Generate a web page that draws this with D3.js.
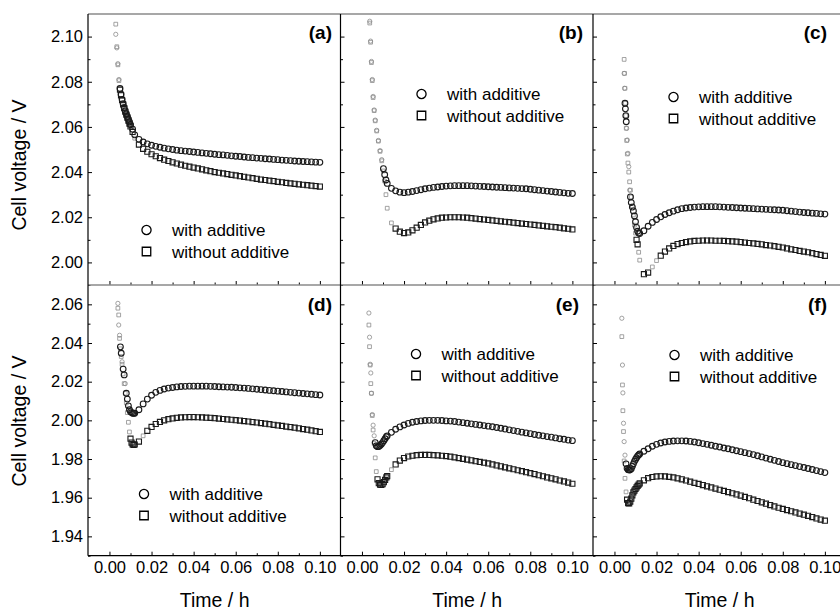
<!DOCTYPE html>
<html>
  <head>
    <meta charset="utf-8">
    <title>Cell voltage over time</title>
    <script src="https://d3js.org/d3.v7.min.js"></script>
    <style>
      body { margin: 0; background: #fff; }
      svg { font-family: "Liberation Sans", Arial, Helvetica, sans-serif; }
      .tick line { stroke: #000; }
      .tick text { font-size: 16.5px; fill: #000; }
    </style>
  </head>
  <body>
    <svg id="chart" width="840" height="610"></svg>
    <script>
      // tick values
      xTicks = [0.00, 0.02, 0.04, 0.06, 0.08, 0.10];
      xMinor = [0.01, 0.03, 0.05, 0.07, 0.09];
      yTicksTop = [2.00, 2.02, 2.04, 2.06, 2.08, 2.10];
      yMinorTop = [1.99, 2.01, 2.03, 2.05, 2.07, 2.09];
      yTicksBottom = [1.94, 1.96, 1.98, 2.00, 2.02, 2.04, 2.06];
      yMinorBottom = [1.93, 1.95, 1.97, 1.99, 2.01, 2.03, 2.05];
      seriesNames = ["with additive", "without additive"];

      // regular part of the time axis (h)
      tGrid = [0.012, 0.014, 0.016, 0.018, 0.020, 0.022, 0.024, 0.026, 0.028, 0.030,
               0.032, 0.034, 0.036, 0.038, 0.040, 0.042, 0.044, 0.046, 0.048, 0.050,
               0.052, 0.054, 0.056, 0.058, 0.060, 0.062, 0.064, 0.066, 0.068, 0.070,
               0.072, 0.074, 0.076, 0.078, 0.080, 0.082, 0.084, 0.086, 0.088, 0.090,
               0.092, 0.094, 0.096, 0.098, 0.100];

      // (a)
      timeA = [0.003, 0.0035, 0.004, 0.0045, 0.005, 0.0055, 0.006, 0.0065, 0.007, 0.0075,
               0.008, 0.0085, 0.009, 0.0095, 0.010, 0.011].concat(tGrid);
      withA = [2.1010, 2.0950, 2.0880, 2.0810, 2.0770, 2.0745, 2.0722, 2.0703, 2.0686, 2.0671,
               2.0658, 2.0646, 2.0634, 2.0622, 2.0610, 2.0590,
               2.0565, 2.0545, 2.0533, 2.0525, 2.0519, 2.0514, 2.0510, 2.0506, 2.0503, 2.0500,
               2.0497, 2.0495, 2.0493, 2.0491, 2.0489, 2.0487, 2.0485, 2.0483, 2.0481, 2.0479,
               2.0477, 2.0476, 2.0474, 2.0472, 2.0470, 2.0469, 2.0467, 2.0465, 2.0464, 2.0462,
               2.0461, 2.0459, 2.0458, 2.0456, 2.0455, 2.0453, 2.0452, 2.0451, 2.0449, 2.0448,
               2.0447, 2.0446, 2.0445, 2.0444, 2.0443];
      withoutA = [2.1055, 2.0955, 2.0875, 2.0805, 2.0765, 2.0740, 2.0718, 2.0700, 2.0683, 2.0668,
                  2.0654, 2.0641, 2.0628, 2.0615, 2.0602, 2.0578,
                  2.0550, 2.0522, 2.0503, 2.0490, 2.0479, 2.0470, 2.0462, 2.0455, 2.0449, 2.0443,
                  2.0438, 2.0433, 2.0428, 2.0424, 2.0420, 2.0416, 2.0412, 2.0408, 2.0404, 2.0400,
                  2.0397, 2.0394, 2.0391, 2.0388, 2.0385, 2.0382, 2.0379, 2.0376, 2.0373, 2.0370,
                  2.0367, 2.0365, 2.0362, 2.0360, 2.0357, 2.0355, 2.0352, 2.0350, 2.0348, 2.0346,
                  2.0344, 2.0342, 2.0340, 2.0338, 2.0336];

      // (b)
      timeB = [0.0037, 0.0041, 0.0045, 0.0049, 0.0053, 0.0058, 0.0063, 0.0070, 0.0078, 0.0086,
               0.0094, 0.0102, 0.0108, 0.0114].concat(tGrid);
      withB = [2.1068, 2.0980, 2.0890, 2.0810, 2.0735, 2.0675, 2.0630, 2.0585, 2.0540, 2.0495,
               2.0455, 2.0415, 2.0388, 2.0365,
               2.0350, 2.0328, 2.0317, 2.0311, 2.0309, 2.0311, 2.0314, 2.0318, 2.0322, 2.0326,
               2.0329, 2.0332, 2.0334, 2.0336, 2.0338, 2.0339, 2.0340, 2.0340, 2.0340, 2.0340,
               2.0339, 2.0338, 2.0337, 2.0336, 2.0335, 2.0334, 2.0333, 2.0332, 2.0331, 2.0330,
               2.0329, 2.0328, 2.0327, 2.0326, 2.0324, 2.0322, 2.0320, 2.0318, 2.0316, 2.0314,
               2.0312, 2.0310, 2.0308, 2.0306, 2.0305];
      withoutB = [2.1060, 2.0975, 2.0885, 2.0805, 2.0730, 2.0672, 2.0627, 2.0582, 2.0537, 2.0492,
                  2.0450, 2.0405, 2.0360, 2.0300,
                  2.0240, 2.0175, 2.0150, 2.0136, 2.0130, 2.0133, 2.0142, 2.0154, 2.0166, 2.0177,
                  2.0185, 2.0191, 2.0195, 2.0198, 2.0199, 2.0200, 2.0200, 2.0200, 2.0199, 2.0198,
                  2.0196, 2.0194, 2.0192, 2.0190, 2.0188, 2.0186, 2.0184, 2.0182, 2.0180, 2.0178,
                  2.0176, 2.0174, 2.0172, 2.0170, 2.0168, 2.0166, 2.0164, 2.0162, 2.0160, 2.0158,
                  2.0156, 2.0154, 2.0151, 2.0149, 2.0146];

      // (c)
      timeC = [0.0046, 0.0048, 0.0050, 0.0052, 0.0054, 0.0056, 0.0058, 0.0061, 0.0064, 0.0068,
               0.0072, 0.0076, 0.0080, 0.0085, 0.0090, 0.0095, 0.0100, 0.0105, 0.0110, 0.0115].concat(tGrid);
      withC = [2.0837, 2.0771, 2.0705, 2.0680, 2.0650, 2.0623, 2.0594, 2.0542, 2.0483, 2.0424,
               2.0320, 2.0290, 2.0265, 2.0245, 2.0228, 2.0206, 2.0180, 2.0155, 2.0138, 2.0130,
               2.0128, 2.0140, 2.0160, 2.0177, 2.0190, 2.0202, 2.0212, 2.0220, 2.0227, 2.0233,
               2.0238, 2.0241, 2.0243, 2.0245, 2.0246, 2.0247, 2.0247, 2.0247, 2.0247, 2.0246,
               2.0245, 2.0244, 2.0243, 2.0242, 2.0241, 2.0240, 2.0239, 2.0238, 2.0237, 2.0236,
               2.0235, 2.0234, 2.0233, 2.0232, 2.0231, 2.0229, 2.0227, 2.0225, 2.0223, 2.0221,
               2.0220, 2.0218, 2.0217, 2.0215, 2.0214];
      withoutC = [2.0899, 2.0837, 2.0771, 2.0705, 2.0650, 2.0594, 2.0540, 2.0480, 2.0440, 2.0400,
                  2.0357, 2.0320, 2.0290, 2.0250, 2.0210, 2.0165, 2.0130, 2.0100, 2.0080, 2.0045,
                  2.0010, 1.9948, 1.9955, 1.9980, 2.0008, 2.0030, 2.0048, 2.0062, 2.0073, 2.0081,
                  2.0086, 2.0090, 2.0093, 2.0095, 2.0096, 2.0097, 2.0097, 2.0097, 2.0096, 2.0096,
                  2.0095, 2.0094, 2.0093, 2.0092, 2.0090, 2.0088, 2.0086, 2.0084, 2.0082, 2.0080,
                  2.0077, 2.0075, 2.0072, 2.0069, 2.0066, 2.0062, 2.0058, 2.0055, 2.0051, 2.0048,
                  2.0045, 2.0041, 2.0037, 2.0033, 2.0029];

      // (d)
      timeD = [0.0040, 0.0044, 0.0048, 0.0052, 0.0056, 0.0060, 0.0065, 0.0070, 0.0075, 0.0080,
               0.0085, 0.0090, 0.0095, 0.0100, 0.0105, 0.0110, 0.0115].concat(tGrid);
      withD = [2.0605, 2.0493, 2.0440, 2.0380, 2.0347, 2.0303, 2.0265, 2.0235, 2.0190, 2.0140,
               2.0110, 2.0075, 2.0055, 2.0045, 2.0040, 2.0037, 2.0036,
               2.0037, 2.0055, 2.0085, 2.0110, 2.0130, 2.0145, 2.0155, 2.0162, 2.0167, 2.0170,
               2.0173, 2.0175, 2.0176, 2.0177, 2.0177, 2.0177, 2.0177, 2.0177, 2.0176, 2.0175,
               2.0174, 2.0173, 2.0172, 2.0171, 2.0170, 2.0168, 2.0167, 2.0165, 2.0163, 2.0161,
               2.0159, 2.0157, 2.0155, 2.0153, 2.0151, 2.0149, 2.0147, 2.0145, 2.0143, 2.0141,
               2.0139, 2.0137, 2.0135, 2.0133, 2.0131];
      withoutD = [2.0580, 2.0545, 2.0424, 2.0370, 2.0330, 2.0290, 2.0240, 2.0190, 2.0140, 2.0090,
                  2.0040, 1.9990, 1.9940, 1.9905, 1.9885, 1.9876, 1.9873,
                  1.9875, 1.9890, 1.9920, 1.9946, 1.9966, 1.9981, 1.9992, 2.0000, 2.0006, 2.0010,
                  2.0013, 2.0015, 2.0016, 2.0017, 2.0017, 2.0016, 2.0015, 2.0014, 2.0013, 2.0011,
                  2.0009, 2.0007, 2.0005, 2.0003, 2.0001, 1.9999, 1.9996, 1.9994, 1.9991, 1.9989,
                  1.9986, 1.9983, 1.9980, 1.9977, 1.9974, 1.9971, 1.9968, 1.9965, 1.9962, 1.9959,
                  1.9955, 1.9952, 1.9948, 1.9944, 1.9940];

      // (e)
      timeE = [0.0033, 0.0036, 0.0039, 0.0042, 0.0045, 0.0049, 0.0053, 0.0058, 0.0063, 0.0068,
               0.0074, 0.0080, 0.0086, 0.0092, 0.0098, 0.0104, 0.0110, 0.0116].concat(tGrid);
      withE = [2.0555, 2.0430, 2.0290, 2.0245, 2.0140, 2.0030, 1.9975, 1.9920, 1.9885, 1.9868,
               1.9864, 1.9865, 1.9870, 1.9877, 1.9885, 1.9895, 1.9905, 1.9915,
               1.9920, 1.9938, 1.9954, 1.9966, 1.9976, 1.9984, 1.9990, 1.9994, 1.9997, 1.9999,
               2.0000, 2.0000, 2.0000, 1.9999, 1.9997, 1.9996, 1.9994, 1.9991, 1.9988, 1.9985,
               1.9982, 1.9979, 1.9976, 1.9973, 1.9970, 1.9967, 1.9963, 1.9959, 1.9955, 1.9951,
               1.9947, 1.9943, 1.9939, 1.9935, 1.9931, 1.9927, 1.9923, 1.9920, 1.9916, 1.9913,
               1.9909, 1.9905, 1.9902, 1.9898, 1.9895];
      withoutE = [2.0493, 2.0381, 2.0286, 2.0190, 2.0140, 2.0025, 1.9950, 1.9880, 1.9806, 1.9735,
                  1.9695, 1.9675, 1.9667, 1.9666, 1.9670, 1.9680, 1.9692, 1.9705,
                  1.9712, 1.9745, 1.9772, 1.9792, 1.9805, 1.9813, 1.9817, 1.9820, 1.9821, 1.9821,
                  1.9821, 1.9820, 1.9819, 1.9817, 1.9815, 1.9812, 1.9809, 1.9805, 1.9801, 1.9797,
                  1.9793, 1.9789, 1.9785, 1.9781, 1.9777, 1.9772, 1.9767, 1.9762, 1.9757, 1.9752,
                  1.9747, 1.9742, 1.9737, 1.9732, 1.9727, 1.9722, 1.9716, 1.9711, 1.9705, 1.9700,
                  1.9695, 1.9689, 1.9684, 1.9678, 1.9672];

      // (f)
      timeF = [0.0035, 0.0038, 0.0040, 0.0043, 0.0046, 0.0050, 0.0055, 0.0060, 0.0065, 0.0070,
               0.0075, 0.0080, 0.0085, 0.0090, 0.0095, 0.0100, 0.0105, 0.0110, 0.0115].concat(tGrid);
      withF = [2.0528, 2.0286, 2.0142, 1.9985, 1.9890, 1.9820, 1.9775, 1.9752, 1.9745, 1.9743,
               1.9744, 1.9750, 1.9762, 1.9775, 1.9788, 1.9798, 1.9807, 1.9815, 1.9821,
               1.9826, 1.9840, 1.9853, 1.9866, 1.9876, 1.9883, 1.9888, 1.9891, 1.9893, 1.9894,
               1.9894, 1.9893, 1.9891, 1.9888, 1.9884, 1.9880, 1.9876, 1.9871, 1.9866, 1.9862,
               1.9857, 1.9853, 1.9848, 1.9843, 1.9838, 1.9833, 1.9828, 1.9823, 1.9817, 1.9811,
               1.9805, 1.9799, 1.9793, 1.9787, 1.9781, 1.9776, 1.9771, 1.9766, 1.9761, 1.9756,
               1.9751, 1.9746, 1.9740, 1.9735, 1.9730];
      withoutF = [2.0433, 2.0183, 2.0050, 1.9942, 1.9790, 1.9700, 1.9630, 1.9590, 1.9572, 1.9571,
                  1.9580, 1.9595, 1.9612, 1.9628, 1.9637, 1.9645, 1.9653, 1.9661, 1.9668,
                  1.9674, 1.9690, 1.9701, 1.9707, 1.9710, 1.9711, 1.9710, 1.9708, 1.9705, 1.9700,
                  1.9695, 1.9689, 1.9683, 1.9677, 1.9671, 1.9665, 1.9659, 1.9653, 1.9647, 1.9641,
                  1.9635, 1.9629, 1.9623, 1.9617, 1.9611, 1.9604, 1.9597, 1.9590, 1.9583, 1.9576,
                  1.9569, 1.9562, 1.9555, 1.9548, 1.9542, 1.9536, 1.9530, 1.9524, 1.9518, 1.9512,
                  1.9506, 1.9500, 1.9493, 1.9487, 1.9481];

      // layout
      svg = d3.select("#chart");
      colLeft = [88, 340.5, 593];
      panelW = 252.5;
      rows = [
        { top: 14, bottom: 285, domain: [1.99, 2.11], ticks: yTicksTop, minor: yMinorTop, titleY: 165 },
        { top: 285, bottom: 555.7, domain: [1.93, 2.07], ticks: yTicksBottom, minor: yMinorBottom, titleY: 421 }
      ];
      panels = [
        { name: "(a)", row: 0, col: 0, t: timeA, v: [withA, withoutA], leg: [146.5, 230], labX: 332, labY: 39 },
        { name: "(b)", row: 0, col: 1, t: timeB, v: [withB, withoutB], leg: [421.5, 94], labX: 583, labY: 39 },
        { name: "(c)", row: 0, col: 2, t: timeC, v: [withC, withoutC], leg: [673.5, 97], labX: 827, labY: 39 },
        { name: "(d)", row: 1, col: 0, t: timeD, v: [withD, withoutD], leg: [144, 494], labX: 332, labY: 311 },
        { name: "(e)", row: 1, col: 1, t: timeE, v: [withE, withoutE], leg: [416, 354], labX: 579, labY: 311 },
        { name: "(f)", row: 1, col: 2, t: timeF, v: [withF, withoutF], leg: [674.5, 355], labX: 827, labY: 311 }
      ];
      // markers that sit close together overlap into a dark band, isolated ones look faint
      bandCircle = d3.symbol(d3.symbolCircle, 26);
      bandSquare = d3.symbol(d3.symbolSquare, 26);
      faintCircle = d3.symbol(d3.symbolCircle, 14);
      faintSquare = d3.symbol(d3.symbolSquare, 14);
      legCircle = d3.symbol(d3.symbolCircle, 66);
      legSquare = d3.symbol(d3.symbolSquare, 72);

      panels.forEach(function(p) {
        var row = rows[p.row];
        var left = colLeft[p.col];
        var x = d3.scaleLinear().domain([-0.0102, 0.1098]).range([left, left + panelW]);
        var y = d3.scaleLinear().domain(row.domain).range([row.bottom, row.top]);
        var g = svg.append("g");

        // data markers: squares first, circles on top
        [1, 0].forEach(function(s) {
          var pts = p.t.map(function(t, i) { return { px: x(t), py: y(p.v[s][i]) }; });
          pts.forEach(function(d, i) {
            var gaps = [];
            if (i > 0) gaps.push(Math.hypot(d.px - pts[i - 1].px, d.py - pts[i - 1].py));
            if (i < pts.length - 1) gaps.push(Math.hypot(d.px - pts[i + 1].px, d.py - pts[i + 1].py));
            d.faint = d3.min(gaps) > 6.5;
          });
          g.append("g")
            .selectAll("path")
            .data(pts)
            .join("path")
              .attr("transform", function(d) { return "translate(" + d.px + "," + d.py + ")"; })
              .attr("d", function(d) {
                if (s === 0) return d.faint ? faintCircle() : bandCircle();
                return d.faint ? faintSquare() : bandSquare();
              })
              .attr("fill", "none")
              .attr("stroke", function(d) { return d.faint ? "#8c8c8c" : "#1a1a1a"; })
              .attr("stroke-width", function(d) { return d.faint ? 0.8 : 1.1; });
        });

        // y axis, ticks inward
        var yAxisG = g.append("g").attr("transform", "translate(" + left + ",0)");
        yAxisG.call(d3.axisLeft(y).tickValues(row.ticks).tickSizeInner(-4).tickSizeOuter(0).tickPadding(5)
          .tickFormat(p.col === 0 ? d3.format(".2f") : ""));
        yAxisG.select(".domain").remove();
        var yMinorG = g.append("g").attr("transform", "translate(" + left + ",0)");
        yMinorG.call(d3.axisLeft(y).tickValues(row.minor).tickSizeInner(-2.5).tickSizeOuter(0).tickFormat(""));
        yMinorG.select(".domain").remove();

        // x axis, ticks inward
        var xAxisG = g.append("g").attr("transform", "translate(0," + row.bottom + ")");
        xAxisG.call(d3.axisBottom(x).tickValues(xTicks).tickSizeInner(-4).tickSizeOuter(0).tickPadding(6)
          .tickFormat(p.row === 1 ? d3.format(".2f") : ""));
        xAxisG.select(".domain").remove();
        var xMinorG = g.append("g").attr("transform", "translate(0," + row.bottom + ")");
        xMinorG.call(d3.axisBottom(x).tickValues(xMinor).tickSizeInner(-2.5).tickSizeOuter(0).tickFormat(""));
        xMinorG.select(".domain").remove();

        // panel letter
        g.append("text")
          .attr("x", p.labX)
          .attr("y", p.labY)
          .attr("text-anchor", "end")
          .attr("font-size", 19)
          .attr("font-weight", "bold")
          .text(p.name);

        // legend
        seriesNames.forEach(function(name, s) {
          var ly = p.leg[1] + s * 21.5;
          g.append("path")
            .attr("transform", "translate(" + p.leg[0] + "," + ly + ")")
            .attr("d", s === 0 ? legCircle : legSquare)
            .attr("fill", "none")
            .attr("stroke", "#000")
            .attr("stroke-width", 1.3);
          g.append("text")
            .attr("x", p.leg[0] + 25.5)
            .attr("y", ly + 6)
            .attr("font-size", 17)
            .text(name);
        });

        // axis titles
        if (p.col === 0) {
          svg.append("text")
            .attr("transform", "translate(26," + row.titleY + ") rotate(-90)")
            .attr("text-anchor", "middle")
            .attr("font-size", 19.5)
            .text("Cell voltage / V");
        }
        if (p.row === 1) {
          svg.append("text")
            .attr("x", x(0.05))
            .attr("y", 607)
            .attr("text-anchor", "middle")
            .attr("font-size", 19.5)
            .text("Time / h");
        }
      });

      // frame lines
      svg.append("line").attr("x1", 88).attr("x2", 840).attr("y1", 14).attr("y2", 14)
        .attr("stroke", "#8a8a8a").attr("stroke-width", 1.5);
      svg.append("line").attr("x1", 88).attr("x2", 840).attr("y1", 285).attr("y2", 285)
        .attr("stroke", "#8a8a8a").attr("stroke-width", 1.5);
      svg.append("line").attr("x1", 88).attr("x2", 840).attr("y1", 555.7).attr("y2", 555.7)
        .attr("stroke", "#000").attr("stroke-width", 1.2);
      colLeft.forEach(function(cx) {
        svg.append("line").attr("x1", cx).attr("x2", cx).attr("y1", 14).attr("y2", 555.7)
          .attr("stroke", "#000").attr("stroke-width", 1.2);
      });
    </script>
  </body>
</html>
